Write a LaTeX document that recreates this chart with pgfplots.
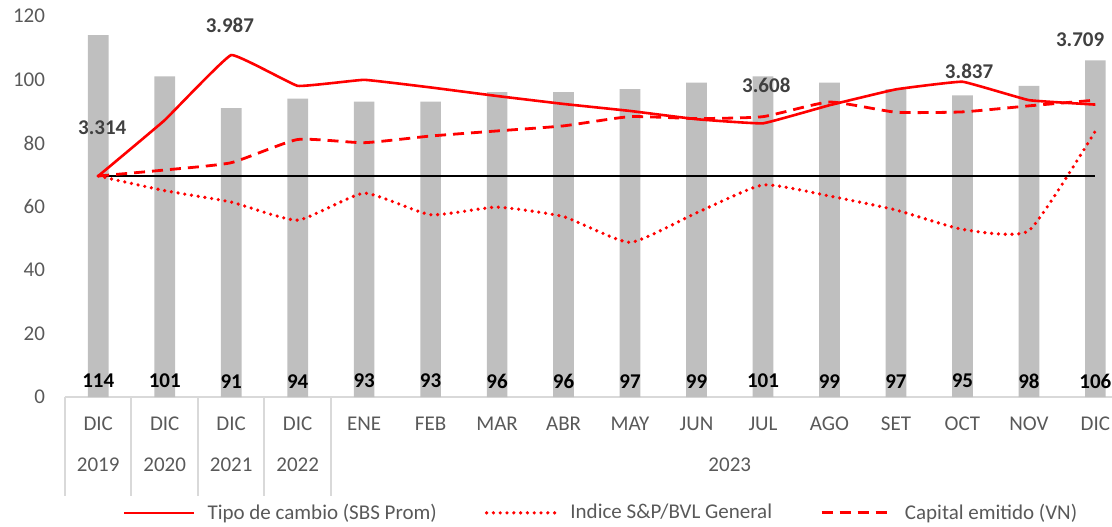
\documentclass[border=0pt]{standalone}
\usepackage{fontspec}
\setmainfont{Carlito}
\usepackage{pgfplots}
\pgfplotsset{compat=1.18}

\definecolor{barfill}{HTML}{BFBFBF}
\definecolor{txtgray}{HTML}{595959}
\definecolor{lblgray}{HTML}{404040}
\definecolor{sepgray}{HTML}{D9D9D9}

\begin{document}
\begin{tikzpicture}
\begin{axis}[
    at={(0,0)}, anchor=south west,
    scale only axis,
    width=523.5pt, height=190.5pt,
    xmin=-0.5, xmax=15.25,
    ymin=0, ymax=120,
    clip=false,
    axis x line*=bottom,
    axis y line*=left,
    x axis line style={-, draw=sepgray, line width=1pt},
    y axis line style={draw=none},
    major tick length=0pt,
    ytick={0,20,...,120},
    xtick={0,...,15},
    xticklabels={DIC,DIC,DIC,DIC,ENE,FEB,MAR,ABR,MAY,JUN,JUL,AGO,SET,OCT,NOV,DIC},
    xticklabel style={anchor=center, yshift=-13.5pt},
    tick label style={font=\fontsize{10.5}{12}\selectfont, text=txtgray},
    /pgf/number format/assume math mode=true,
    yticklabel style={xshift=-6.5pt},
    legend style={at={(0.513,-0.304)}, anchor=center, draw=none, fill=none,
        legend columns=3, font=\fontsize{10.5}{12}\selectfont, text=txtgray,
        /tikz/every even column/.append style={column sep=22pt},
        /tikz/every odd column/.append style={column sep=4pt}},
    legend image code/.code={\draw[#1] (0pt,0pt) -- (35pt,0pt);},
]
% bars
\addplot[ybar, bar width=10.35pt, fill=barfill, draw=none, forget plot]
  coordinates {(0,114)(1,101)(2,91)(3,94)(4,93)(5,93)(6,96)(7,96)(8,97)(9,99)(10,101)(11,99)(12,97)(13,95)(14,98)(15,106)};
% base line
\addplot[black, line width=1.3pt, forget plot] coordinates {(0,69.6)(15,69.6)};
% tipo de cambio
\addplot[red, line width=1.3pt, smooth, tension=0.15] coordinates {
  (0,69.6)(1,87.2)(2,107.7)(3,98.0)(4,99.9)(5,97.5)(6,94.8)(7,92.3)
  (8,90.1)(9,87.5)(10,86.2)(11,91.9)(12,96.9)(13,99.3)(14,93.5)(15,92.1)};
\addlegendentry{Tipo de cambio (SBS Prom)}
% indice
\addplot[red, line width=1.8pt, line cap=round, dash pattern=on 0pt off 3.4pt, smooth, tension=0.3] coordinates {
  (0,69.6)(1,65.0)(2,61.4)(3,55.7)(4,64.2)(5,57.4)(6,59.8)(7,56.8)
  (8,48.7)(9,58.0)(10,66.8)(11,63.3)(12,58.9)(13,52.8)(14,52.4)(15,83.8)};
\addlegendentry{Indice S\&P/BVL General}
% capital emitido
\addplot[red, line width=1.4pt, dash pattern=on 5.5pt off 3.5pt, smooth, tension=0.3] coordinates {
  (0,69.6)(1,71.5)(2,73.8)(3,81.1)(4,80.1)(5,82.2)(6,83.8)(7,85.4)
  (8,88.3)(9,87.7)(10,88.3)(11,92.9)(12,89.7)(13,89.8)(14,91.7)(15,93.5)};
\addlegendentry{Capital emitido (VN)}
% bar value labels
\addplot[only marks, mark=none, forget plot, nodes near coords, point meta=explicit symbolic,
  every node near coord/.style={anchor=center, font=\fontsize{10.5}{12}\selectfont\bfseries, text=black}]
  coordinates {(0,5)[114](1,5)[101](2,5)[91](3,5)[94](4,5)[93](5,5)[93](6,5)[96](7,5)[96]
  (8,5)[97](9,5)[99](10,5)[101](11,5)[99](12,5)[97](13,5)[95](14,5)[98](15,5)[106]};
% exchange-rate labels
\addplot[only marks, mark=none, forget plot, nodes near coords, point meta=explicit symbolic,
  every node near coord/.style={anchor=center, font=\fontsize{10.5}{12}\selectfont\bfseries, text=lblgray}]
  coordinates {(0.06,84.7)[3.314](1.98,117.2)[3.987](10.05,98.3)[3.608](13.1,102.5)[3.837](14.77,112.4)[3.709]};
% category separators and year row
\pgfplotsinvokeforeach{-0.5,0.5,1.5,2.5,3.5}{
  \draw[sepgray, line width=1pt] (axis cs:#1,0) -- ++(0pt,-49.5pt);
}
\node[text=txtgray, font=\fontsize{10.5}{12}\selectfont] at ([yshift=-34pt]axis cs:0,0) {2019};
\node[text=txtgray, font=\fontsize{10.5}{12}\selectfont] at ([yshift=-34pt]axis cs:1,0) {2020};
\node[text=txtgray, font=\fontsize{10.5}{12}\selectfont] at ([yshift=-34pt]axis cs:2,0) {2021};
\node[text=txtgray, font=\fontsize{10.5}{12}\selectfont] at ([yshift=-34pt]axis cs:3,0) {2022};
\node[text=txtgray, font=\fontsize{10.5}{12}\selectfont] at ([yshift=-34pt]axis cs:9.5,0) {2023};
\end{axis}
\pgfresetboundingbox
\path[use as bounding box] (-32.5pt,-64.5pt) rectangle (523.5pt,198.5pt);
\end{tikzpicture}
\end{document}
